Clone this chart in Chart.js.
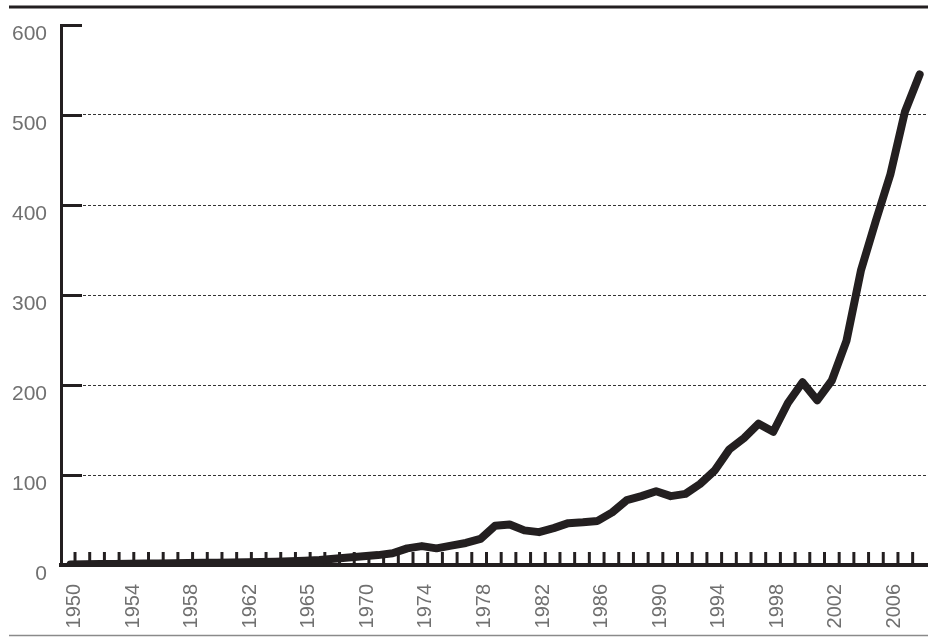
<!DOCTYPE html>
<html><head><meta charset="utf-8">
<script src="https://cdn.jsdelivr.net/npm/chart.js@4.4.1/dist/chart.umd.min.js"></script>
<style>html,body{margin:0;padding:0;background:#fff}canvas{display:block}</style>
</head><body>
<canvas id="c" width="928" height="637"></canvas>
<script>
const years = [1950,1951,1952,1953,1954,1955,1956,1957,1958,1959,
  1960,1961,1962,1963,1964,1965,1966,1967,1968,1969,
  1970,1971,1972,1973,1974,1975,1976,1977,1978,1979,
  1980,1981,1982,1983,1984,1985,1986,1987,1988,1989,
  1990,1991,1992,1993,1994,1995,1996,1997,1998,1999,
  2000,2001,2002,2003,2004,2005,2006,2007,2008];
const values = [0.5,0.7,1,1.2,1.4,1.6,1.8,2,2.2,2.4,
  2.6,2.8,3,3.3,3.7,4.2,4.8,5.5,7,8.3,
  9.6,11,13,18.5,21,18.5,21.5,24.5,29,43.5,
  45,38.5,36.5,41,46.5,47.5,49,58.5,72,76.5,
  82,76.5,79,90,105,128.5,141,157,148,180,
  203,183,205,249,328,382,434,504,545];
const xTickYears = [1950,1954,1958,1962,1966,1970,1974,1978,1982,1986,1990,1994,1998,2002,2006];
const xTickLabels = ["1950","1954","1958","1962","1965","1970","1974","1978","1982","1986","1990","1994","1998","2002","2006"];
const yTicks = [0,100,200,300,400,500,600];
const markYears = years.slice(0, years.length - 1);

const INK = '#231f20';
const LABEL = '#707070';

const decor = {
  id: 'decor',
  beforeDatasetsDraw(chart) {
    const {ctx, scales: {x, y}, chartArea} = chart;
    ctx.save();
    ctx.strokeStyle = INK;
    ctx.lineWidth = 3;
    ctx.lineCap = 'butt';
    yTicks.forEach(v => {
      if (v === 0) return;
      const py = Math.round(y.getPixelForValue(v)) + 0.5;
      ctx.beginPath();
      ctx.moveTo(chartArea.left, py);
      ctx.lineTo(chartArea.left + 21, py);
      ctx.stroke();
    });
    const base = y.getPixelForValue(0);
    markYears.forEach(yr => {
      const px = x.getPixelForValue(yr) + 4.5 + (yr - years[0]) * 0.055;
      ctx.beginPath();
      ctx.moveTo(px, base);
      ctx.lineTo(px, base - 13);
      ctx.stroke();
    });
    ctx.restore();
  },
  afterDraw(chart) {
    const {ctx, width} = chart;
    ctx.save();
    ctx.strokeStyle = INK;
    ctx.lineWidth = 3;
    ctx.beginPath(); ctx.moveTo(9, 7); ctx.lineTo(width, 7); ctx.stroke();
    ctx.strokeStyle = '#8a8a8a';
    ctx.lineWidth = 1.5;
    ctx.beginPath(); ctx.moveTo(9, 635.5); ctx.lineTo(width, 635.5); ctx.stroke();
    ctx.restore();
  }
};

new Chart(document.getElementById('c'), {
  type: 'line',
  data: {
    datasets: [{
      data: years.map((yr, i) => ({x: yr, y: values[i]})),
      borderColor: INK,
      borderWidth: 8,
      borderCapStyle: 'round',
      borderJoinStyle: 'round',
      pointRadius: 0,
      tension: 0,
      fill: false
    }]
  },
  options: {
    responsive: false,
    devicePixelRatio: 1,
    animation: false,
    layout: {padding: {left: 10, top: 25, right: 0, bottom: 0}},
    plugins: {legend: {display: false}, tooltip: {enabled: false}},
    scales: {
      x: {
        type: 'linear',
        min: 1949.35,
        max: 2008.57,
        afterBuildTicks: s => { s.ticks = xTickYears.map(v => ({value: v})); },
        afterFit: s => { s.height = 72; s.paddingLeft = 0; s.paddingRight = 0; },
        ticks: {
          autoSkip: false,
          minRotation: 90,
          maxRotation: 90,
          padding: 19,
          labelOffset: 4,
          color: LABEL,
          font: {family: "'Liberation Sans Narrow', 'Liberation Sans', Arial, sans-serif", size: 20},
          callback: (v, i) => xTickLabels[i]
        },
        grid: {display: false, drawTicks: false},
        border: {display: true, color: INK, width: 4}
      },
      y: {
        min: 0,
        max: 600,
        afterBuildTicks: s => { s.ticks = yTicks.map(v => ({value: v})); },
        afterFit: s => { s.width = 51; s.paddingTop = 0; s.paddingBottom = 0; },
        ticks: {
          padding: 14,
          labelOffset: 9,
          color: LABEL,
          font: {family: "'Liberation Sans', Arial, sans-serif", size: 21},
          callback: v => String(v)
        },
        grid: {
          drawTicks: false,
          lineWidth: 1,
          color: c => (c.tick && (c.tick.value === 0 || c.tick.value === 600)) ? 'rgba(0,0,0,0)' : '#333'
        },
        border: {display: true, color: INK, width: 3, dash: [3, 2]}
      }
    }
  },
  plugins: [decor]
});
</script>
</body></html>
